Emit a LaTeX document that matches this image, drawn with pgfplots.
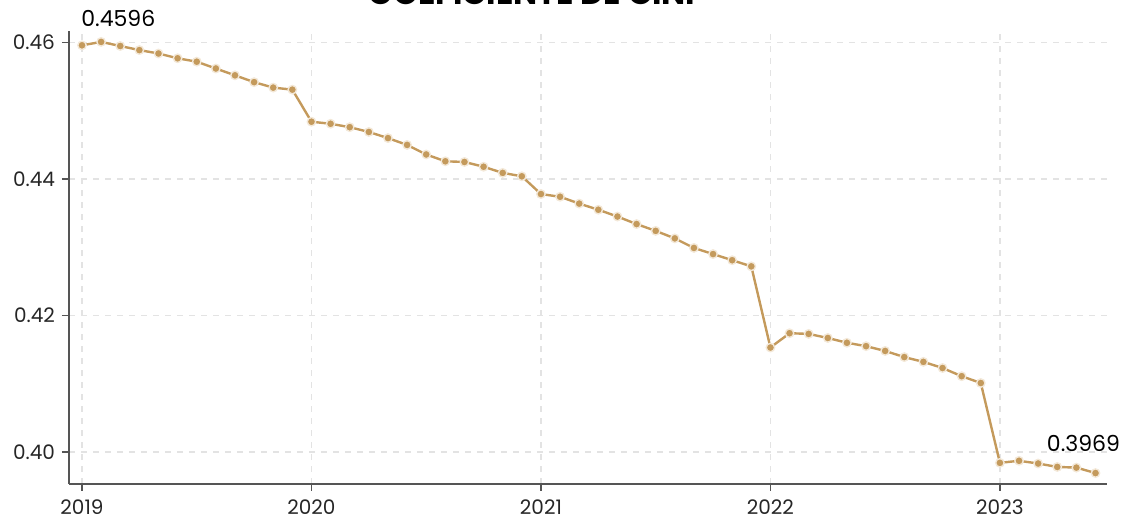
\documentclass[border=0pt]{standalone}
\usepackage{pgfplots}
\pgfplotsset{compat=1.18}
\usepackage{fontspec}
\setmainfont{Poppins}
\definecolor{tan}{HTML}{C49A5C}
\definecolor{halo}{HTML}{F3E8D8}
\definecolor{axgray}{HTML}{555555}
\begin{document}
\begin{tikzpicture}
\begin{axis}[
  name=ax,
  scale only axis,
  width=519pt, height=226.5pt,
  xmin=-0.68, xmax=53.6,
  ymin=0.3953, ymax=0.4617,
  axis lines*=left,
  axis line style={axgray, line width=0.6pt},
  xtick={0,12,24,36,48},
  xticklabels={2019,2020,2021,2022,2023},
  ytick={0.40,0.42,0.44,0.46},
  yticklabel style={/pgf/number format/.cd,fixed,fixed zerofill,precision=2},
  /pgf/number format/assume math mode=true,
  tick style={axgray, line width=0.6pt},
  tick align=outside,
  major tick length=3.5pt,
  ticklabel style={font=\fontsize{10}{12}\selectfont, text=black!85},
  xticklabel style={yshift=-1pt},
  grid=major,
  major grid style={black!11, dash pattern=on 3pt off 3pt, line width=0.6pt},
  clip=false,
]
\addplot[tan, line width=1.2pt, mark=*, mark size=2.1pt,
  mark options={fill=tan, draw=halo, line width=0.7pt}]
coordinates {
(0,0.4596)(1,0.4601)(2,0.4595)(3,0.4589)(4,0.4584)(5,0.4577)(6,0.4572)(7,0.4562)(8,0.4552)(9,0.4542)(10,0.4534)(11,0.4531)
(12,0.4484)(13,0.4481)(14,0.4476)(15,0.4469)(16,0.4460)(17,0.4450)(18,0.4436)(19,0.4426)(20,0.4425)(21,0.4418)(22,0.4409)(23,0.4404)
(24,0.4378)(25,0.4374)(26,0.4364)(27,0.4355)(28,0.4345)(29,0.4334)(30,0.4324)(31,0.4313)(32,0.4299)(33,0.4290)(34,0.4281)(35,0.4272)
(36,0.4153)(37,0.4174)(38,0.4173)(39,0.4167)(40,0.4160)(41,0.4155)(42,0.4148)(43,0.4139)(44,0.4132)(45,0.4123)(46,0.4111)(47,0.4101)
(48,0.3984)(49,0.3987)(50,0.3983)(51,0.3978)(52,0.3977)(53,0.3969)
};
\node[anchor=base west, inner sep=0pt, font=\fontsize{11}{13}\selectfont, xshift=-0.5pt, yshift=9.5pt] at (axis cs:0,0.4596) {0.4596};
\node[anchor=base, inner sep=0pt, font=\fontsize{11}{13}\selectfont, xshift=-6pt, yshift=11pt] at (axis cs:53,0.3969) {0.3969};
\end{axis}
\node[anchor=base, inner sep=0pt, font=\fontsize{16}{18}\bfseries\selectfont] at ([xshift=231.5pt, yshift=13pt]ax.north west) {COEFICIENTE DE GINI};
\pgfresetboundingbox
\useasboundingbox ([xshift=-34.5pt, yshift=-21.5pt]ax.south west) rectangle ([xshift=531pt, yshift=15.5pt]ax.north west);
\end{tikzpicture}
\end{document}
